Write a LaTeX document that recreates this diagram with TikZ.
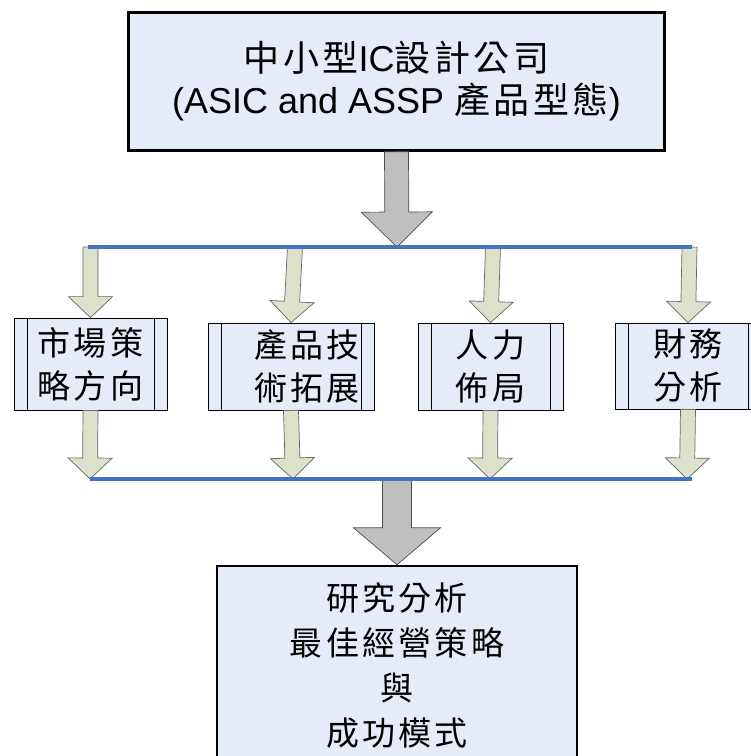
\documentclass[tikz,border=0pt]{standalone}
\usepackage{fontspec}
\setmainfont{Liberation Sans}
\newfontfamily\cjkfont[LetterSpace=10]{Noto Sans CJK TC}
\usetikzlibrary{calc}
\definecolor{boxfill}{HTML}{E6ECF7}
\definecolor{busblue}{HTML}{4472C4}
\definecolor{khaki}{HTML}{DDE0CB}
\definecolor{arrowgray}{HTML}{BFBFBF}

% block arrow: style, from, to, shaft half width, head half width, head length
\newcommand{\blockarrow}[6]{%
  \coordinate (ab) at ($(#3)!#6!(#2)$);
  \draw[#1] ($(#2)!#4!90:(#3)$) -- ($(ab)!#4!90:(#3)$) -- ($(ab)!#5!90:(#3)$) -- (#3)
    -- ($(ab)!#5!-90:(#3)$) -- ($(ab)!#4!-90:(#3)$) -- ($(#2)!#4!-90:(#3)$) -- cycle;}

\begin{document}
\begin{tikzpicture}[x=1pt,y=-1pt,
  firmbox/.style={draw,line width=2.5pt,fill=boxfill,align=center,inner sep=0pt},
  procbox/.style={draw,line width=0.8pt,fill=boxfill,align=center,inner sep=0pt,
    font=\cjkfont\fontsize{33}{43}\selectfont,
    path picture={\draw[line width=0.8pt]
      ([xshift=13pt]path picture bounding box.north west) -- ([xshift=13pt]path picture bounding box.south west)
      ([xshift=-13pt]path picture bounding box.north east) -- ([xshift=-13pt]path picture bounding box.south east);}},
  bus/.style={busblue,line width=4.5pt},
  bigarrow/.style={draw=black!70,fill=arrowgray,line width=0.7pt},
  smallarrow/.style={draw=black!60,fill=khaki,line width=0.7pt}]
\useasboundingbox (0,0) rectangle (751,756);

\node[firmbox,minimum width=536pt,minimum height=138pt,font=\fontsize{36}{42}\selectfont] (firm) at (396.5,81.5)
  {{\cjkfont 中小型}IC{\cjkfont 設計公司}\\(ASIC and ASSP {\cjkfont 產品型態})};

\node[procbox,minimum width=153pt,minimum height=92pt] (mkt) at (90.5,364) {市場策\\略方向};
\node[procbox,minimum width=166pt,minimum height=87pt,text width=138pt,align=right] (tech) at (291,366.5) {產品技\\術拓展};
\node[procbox,minimum width=145pt,minimum height=87pt] (hr) at (490.5,366.5) {人力\\佈局};
\node[procbox,minimum width=146pt,minimum height=86pt] (fin) at (688,366) {財務\\分析};

\node[firmbox,minimum width=360pt,minimum height=200pt,font=\cjkfont\fontsize{33}{45}\selectfont] (plan) at (397,666)
  {研究分析\\最佳經營策略\\與\\成功模式};

\coordinate (tl) at (88,247); \coordinate (tr) at (692,247);
\coordinate (bl) at (90,479); \coordinate (br) at (692,479);
\coordinate (t0) at (397,247); \coordinate (b0) at (397,479);
\coordinate (t1) at (90.5,247); \coordinate (b1) at (90,479);
\coordinate (t2) at (295,247); \coordinate (b2) at (293,479);
\coordinate (t3) at (493,247); \coordinate (b3) at (490,479);
\coordinate (t4) at (689.5,247); \coordinate (b4) at (687,479);

\blockarrow{bigarrow}{firm.south}{t0}{12pt}{35.5pt}{35pt}
\foreach \n/\b in {1/mkt,2/tech,3/hr,4/fin}{
  \blockarrow{smallarrow}{t\n}{\b.north}{7.5pt}{22pt}{21pt}
  \blockarrow{smallarrow}{\b.south}{b\n}{7.5pt}{22pt}{21pt}}
\blockarrow{bigarrow}{b0}{plan.north}{14.5pt}{43.5pt}{37pt}

\draw[bus] (tl) -- (tr);
\draw[bus] (bl) -- (br);
\end{tikzpicture}
\end{document}
